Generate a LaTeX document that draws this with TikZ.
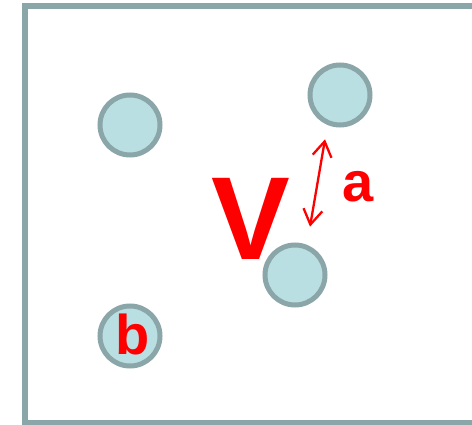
\documentclass[tikz,border=0pt]{standalone}
\usepackage{fontspec}
\setmainfont{Liberation Sans}
\usetikzlibrary{arrows.meta}
\definecolor{ringcol}{HTML}{8BA6A8}
\definecolor{fillcol}{HTML}{BADFE3}
\definecolor{redtxt}{HTML}{FF0000}
\tikzset{
  particle/.style={circle, draw=ringcol, fill=fillcol, line width=5pt, minimum size=60pt, inner sep=0pt},
  lbl/.style={text=redtxt, font=\bfseries, inner sep=0pt},
}
\begin{document}
\begin{tikzpicture}[x=1pt,y=-1pt]
\useasboundingbox (0,0) rectangle (472,425);
\draw[ringcol, line width=6pt] (480,6) -- (25,6) -- (25,422.5) -- (480,422.5);
\node[particle] (p1) at (130,125) {};
\node[particle] (p2) at (340,95) {};
\node[particle] (p3) at (295,275) {};
\node[particle] (p4) at (130,336) {};
\node[lbl, font=\bfseries\fontsize{56}{56}\selectfont, anchor=base] (b) at (133,355) {b};
\node[lbl, font=\bfseries\fontsize{118}{118}\selectfont, anchor=base] (V) at (250.5,259.5) {V};
\node[lbl, font=\bfseries\fontsize{56}{56}\selectfont, anchor=base] (a) at (358.5,202) {a};
\coordinate (t1) at (325,139.3);
\coordinate (t2) at (310,226.7);
\draw[redtxt, line width=2.3pt, {Straight Barb[length=15pt,width=19pt]}-{Straight Barb[length=15pt,width=19pt]}] (t1) -- (t2);
\end{tikzpicture}
\end{document}
